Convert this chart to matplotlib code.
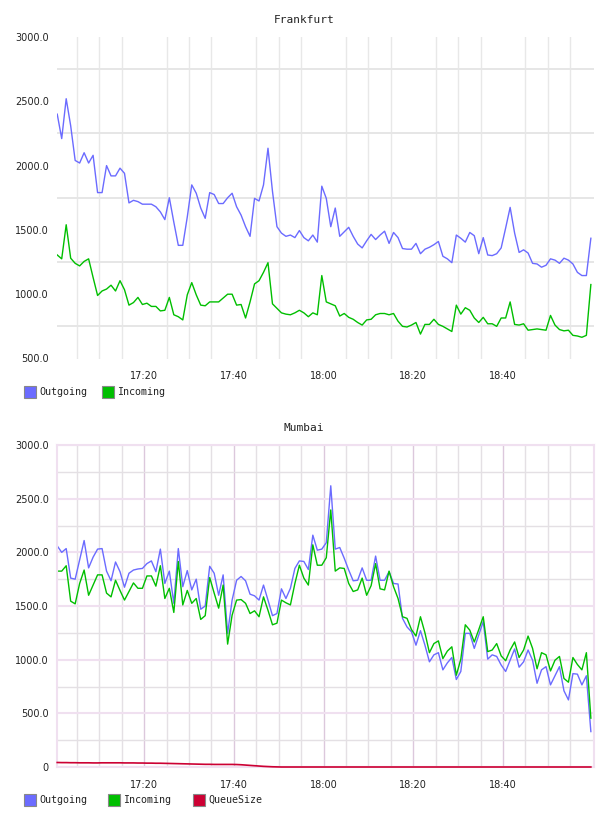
import matplotlib
matplotlib.use("Agg")
import matplotlib.pyplot as plt
from matplotlib.patches import Rectangle
from matplotlib.ticker import MultipleLocator, FixedLocator
import numpy as np

# one sample per minute, starting 17:00:36
n_pts = 120
minutes = np.arange(n_pts) + 0.6
tick_mins = [20, 40, 60, 80, 100]
tick_labels = ["17:20", "17:40", "18:00", "18:20", "18:40"]

fra_outgoing = [2400, 2210, 2520, 2310, 2040, 2020, 2100, 2020, 2080, 1790, 1790, 2000, 1920, 1920, 1980, 1940,
                1710, 1730, 1720, 1700, 1700, 1700, 1680, 1640, 1580, 1750, 1560, 1380, 1380, 1600, 1850,
                1785, 1670, 1590, 1790, 1775, 1705, 1705, 1750, 1785, 1680, 1615, 1525, 1450, 1745, 1725,
                1850, 2135, 1800, 1525, 1475, 1450, 1460, 1440, 1495, 1440, 1415, 1460, 1405, 1840, 1745,
                1525, 1670, 1450, 1485, 1520, 1450, 1390, 1360, 1415, 1465, 1425, 1460, 1490, 1395, 1480,
                1440, 1355, 1350, 1350, 1395, 1315, 1350, 1365, 1385, 1410, 1295, 1275, 1245, 1460, 1435,
                1405, 1480, 1455, 1315, 1440, 1305, 1300, 1315, 1360, 1515, 1675, 1475, 1325, 1345, 1320,
                1240, 1235, 1210, 1225, 1275, 1265, 1240, 1280, 1265, 1235, 1170, 1145, 1145, 1435]
fra_incoming = [1305, 1275, 1540, 1280, 1240, 1220, 1255, 1275, 1130, 990, 1025, 1040, 1070, 1025, 1105, 1035,
                915, 935, 975, 920, 930, 905, 905, 870, 875, 975, 840, 825, 800, 995, 1090,
                995, 915, 910, 940, 940, 940, 970, 1000, 1000, 915, 920, 815, 940, 1080, 1105,
                1170, 1245, 925, 890, 855, 845, 840, 855, 875, 855, 825, 855, 840, 1145, 940,
                925, 910, 830, 850, 820, 805, 780, 760, 800, 805, 840, 850, 850, 840, 850,
                790, 750, 745, 760, 780, 690, 765, 765, 805, 765, 750, 730, 710, 915, 845,
                895, 875, 815, 780, 820, 770, 770, 750, 815, 815, 940, 765, 760, 770, 720,
                725, 730, 725, 720, 835, 760, 725, 715, 720, 680, 675, 665, 680, 1075]

mum_outgoing = [2060, 2000, 2035, 1760, 1750, 1930, 2110, 1855, 1955, 2030, 2035, 1825, 1735, 1910, 1820, 1675,
                1805, 1835, 1845, 1850, 1895, 1920, 1820, 2030, 1710, 1825, 1525, 2035, 1680, 1830, 1650,
                1750, 1470, 1500, 1870, 1805, 1600, 1790, 1245, 1555, 1740, 1775, 1735, 1610, 1595, 1555,
                1695, 1555, 1410, 1430, 1660, 1570, 1665, 1850, 1920, 1915, 1840, 2160, 2020, 2030, 2090,
                2620, 2030, 2045, 1945, 1835, 1735, 1740, 1855, 1740, 1740, 1965, 1740, 1740, 1820, 1710,
                1705, 1385, 1305, 1260, 1135, 1270, 1135, 980, 1045, 1065, 905, 970, 1020, 815, 890,
                1245, 1245, 1105, 1230, 1355, 1005, 1045, 1030, 950, 890, 995, 1100, 930, 980, 1090,
                995, 780, 905, 935, 765, 850, 935, 710, 625, 870, 865, 765, 850, 330]
mum_incoming = [1825, 1825, 1875, 1545, 1520, 1710, 1835, 1600, 1695, 1790, 1790, 1620, 1585, 1740, 1645, 1555,
                1635, 1715, 1665, 1665, 1780, 1780, 1685, 1875, 1570, 1665, 1440, 1915, 1510, 1645, 1525,
                1570, 1375, 1410, 1765, 1620, 1480, 1695, 1145, 1415, 1555, 1560, 1525, 1430, 1455, 1400,
                1585, 1460, 1325, 1340, 1555, 1530, 1510, 1710, 1880, 1760, 1695, 2070, 1880, 1880, 1950,
                2395, 1825, 1855, 1850, 1710, 1635, 1650, 1760, 1600, 1690, 1895, 1660, 1650, 1825, 1680,
                1570, 1400, 1385, 1280, 1220, 1400, 1250, 1065, 1150, 1175, 1010, 1080, 1120, 855, 1005,
                1325, 1275, 1165, 1280, 1400, 1075, 1090, 1150, 1035, 990, 1090, 1165, 1020, 1090, 1220,
                1105, 915, 1065, 1045, 895, 995, 1030, 825, 790, 1020, 955, 905, 1065, 455]
mum_queue = [42, 41, 41, 40, 40, 39, 39, 39, 38, 38, 39, 39, 39, 39, 39, 38, 38, 38, 37, 37,
             36, 36, 35, 35, 34, 33, 32, 31, 30, 29, 28, 27, 26, 25, 25, 24, 24, 24, 24, 24,
             23, 21, 18, 15, 12, 9, 6, 4, 2, 1] + [0] * 70

series_names = ["Outgoing", "Incoming", "QueueSize"]
colors = {"Outgoing": "#6b6bff", "Incoming": "#00bf00", "QueueSize": "#cc0033"}

plt.rcParams["font.family"] = "DejaVu Sans"
fig = plt.figure(figsize=(6.08, 8.16), dpi=100)
W, H = 608.0, 816.0


def axes_px(left, top, right, bottom):
    return fig.add_axes([left / W, 1 - bottom / H, (right - left) / W, (bottom - top) / H])


def legende(names, y, xs):
    for name, x in zip(names, xs):
        fig.patches.append(Rectangle((x / W, 1 - (y + 6) / H), 12 / W, 12 / H, transform=fig.transFigure,
                                     facecolor=colors[name], edgecolor="#888888", lw=0.8))
        fig.text((x + 15) / W, 1 - y / H, name, fontsize=7.2, family="DejaVu Sans Mono",
                 va="center", ha="left", color="#222222")


def common_x(ax):
    ax.set_xlim(0.55, 120.3)
    ax.xaxis.set_major_locator(FixedLocator(tick_mins))
    ax.set_xticklabels(tick_labels)
    ax.xaxis.set_minor_locator(FixedLocator(np.arange(5, 116, 5)))
    ax.tick_params(axis="both", which="both", length=0, labelsize=7, labelcolor="#222222")
    ax.tick_params(axis="x", pad=9)
    ax.tick_params(axis="y", pad=6)


# ---------- Frankfurt ----------
ax1 = axes_px(57, 37, 594, 358.5)
common_x(ax1)
ax1.set_ylim(500, 3000)
ax1.set_yticks(np.arange(500, 3001, 500))
ax1.set_yticklabels(["%.1f" % v for v in np.arange(500, 3001, 500)])
ax1.yaxis.set_minor_locator(FixedLocator(np.arange(750, 3000, 500)))
ax1.grid(False)
ax1.xaxis.grid(True, which="minor", color="#e8e8e8", lw=1.0)
ax1.yaxis.grid(True, which="minor", color="#e6e6e6", lw=1.4)
for s in ax1.spines.values():
    s.set_visible(False)
ax1.plot(minutes, fra_outgoing, color=colors["Outgoing"], lw=1.0)
ax1.plot(minutes, fra_incoming, color=colors["Incoming"], lw=1.0)
fig.text(0.5, 1 - 20 / H, "Frankfurt", ha="center", va="center", fontsize=8, family="DejaVu Sans Mono",
         color="#222222")
legende(series_names[:2], 392, [24, 102])

# ---------- Mumbai ----------
ax2 = axes_px(57, 445, 594, 767)
common_x(ax2)
ax2.set_ylim(0, 3000)
ax2.set_yticks(np.arange(0, 3001, 500))
ax2.set_yticklabels(["0"] + ["%.1f" % v for v in np.arange(500, 3001, 500)])
ax2.yaxis.set_minor_locator(MultipleLocator(250))
ax2.xaxis.grid(True, which="minor", color="#e4e0e4", lw=1.0)
ax2.yaxis.grid(True, which="minor", color="#e4e0e4", lw=1.0)
ax2.xaxis.grid(True, which="major", color="#dcc8dc", lw=1.0)
ax2.yaxis.grid(True, which="major", color="#f0e0f0", lw=1.5)
ax2.set_axisbelow(True)
for s in ax2.spines.values():
    s.set_color("#f0e0f0")
    s.set_linewidth(1.5)
ax2.plot(minutes, mum_outgoing, color=colors["Outgoing"], lw=1.0)
ax2.plot(minutes, mum_incoming, color=colors["Incoming"], lw=1.0)
ax2.plot(minutes, mum_queue, color=colors["QueueSize"], lw=1.2, clip_on=False, zorder=3)
fig.text(0.5, 1 - 428 / H, "Mumbai", ha="center", va="center", fontsize=8, family="DejaVu Sans Mono",
         color="#222222")
legende(series_names, 800, [24, 108, 193])

fig.savefig("out.png", dpi=100, facecolor="white")
